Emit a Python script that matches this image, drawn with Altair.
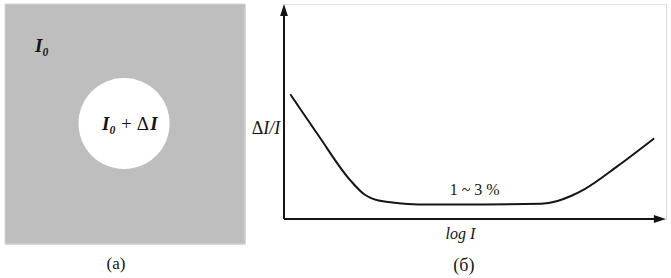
import altair as alt
import pandas as pd

# Curve of the right panel (log I on x, ΔI/I on y, arbitrary units 0..100)
log_i = [1.65, 8.8, 17.5, 21.0, 24.5, 28.9, 35.0, 52.4, 67.3, 71.6, 75.1, 78.6, 87.4, 96.9]
ratio = [58.0, 39.4, 17.7, 11.5, 8.7, 7.6, 6.8, 6.8, 7.1, 8.4, 10.7, 13.8, 24.7, 37.5]

FONT = "Liberation Serif"
INK = "#151515"

# ---------------- left panel (a) ----------------
sx = alt.Scale(domain=[0, 1], nice=False, zero=False)
sy = alt.Scale(domain=[0, 1], nice=False, zero=False)

sq = pd.DataFrame({"x": [0.0], "x2": [1.0], "y": [0.0], "y2": [1.0]})
square = alt.Chart(sq).mark_rect(color="#bebebe", stroke="#d4d4d4", strokeWidth=1).encode(
    x=alt.X("x:Q", scale=sx, axis=None), x2="x2:Q",
    y=alt.Y("y:Q", scale=sy, axis=None), y2="y2:Q",
)
hole = alt.Chart(pd.DataFrame({"x": [0.496], "y": [0.502]})).mark_circle(
    size=8281, color="white", opacity=1
).encode(x=alt.X("x:Q", scale=sx, axis=None), y=alt.Y("y:Q", scale=sy, axis=None))

left_it = pd.DataFrame({"t": ["I₀", "I₀", "I"], "x": [0.154, 0.433, 0.621], "y": [0.825, 0.5, 0.5]})
left_up = pd.DataFrame({"t": ["+", "Δ"], "x": [0.506, 0.574], "y": [0.5, 0.5]})
cap = pd.DataFrame({"t": ["(a)"], "x": [0.4625], "y": [-0.083]})
txt_it = alt.Chart(left_it).mark_text(font=FONT, fontStyle="italic", fontWeight="bold", fontSize=19, color=INK).encode(
    x=alt.X("x:Q", scale=sx, axis=None), y=alt.Y("y:Q", scale=sy, axis=None), text="t:N")
txt_up = alt.Chart(left_up).mark_text(font=FONT, fontSize=19, color=INK).encode(
    x=alt.X("x:Q", scale=sx, axis=None), y=alt.Y("y:Q", scale=sy, axis=None), text="t:N")
txt_cap = alt.Chart(cap).mark_text(font=FONT, fontSize=17, color=INK).encode(
    x=alt.X("x:Q", scale=sx, axis=None), y=alt.Y("y:Q", scale=sy, axis=None), text="t:N")

left = alt.layer(square, hole, txt_it, txt_up, txt_cap).properties(width=240, height=240)

# ---------------- right panel (б) ----------------
rx = alt.Scale(domain=[0, 100], nice=False, zero=False)
ry = alt.Scale(domain=[0, 100], nice=False, zero=False)

curve_df = pd.DataFrame({"logI": log_i, "r": ratio})
curve = alt.Chart(curve_df).mark_line(color=INK, strokeWidth=2, interpolate="monotone").encode(
    x=alt.X("logI:Q", scale=rx, axis=None), y=alt.Y("r:Q", scale=ry, axis=None))

yaxis = alt.Chart(pd.DataFrame({"x": [0], "y": [0], "y2": [97.2]})).mark_rule(color=INK, strokeWidth=2).encode(
    x=alt.X("x:Q", scale=rx, axis=None), y=alt.Y("y:Q", scale=ry, axis=None), y2="y2:Q")
xaxis = alt.Chart(pd.DataFrame({"x": [0], "x2": [98.4], "y": [0]})).mark_rule(color=INK, strokeWidth=2).encode(
    x=alt.X("x:Q", scale=rx, axis=None), x2="x2:Q", y=alt.Y("y:Q", scale=ry, axis=None))
up_head = alt.Chart(pd.DataFrame({"x": [0], "y": [97.2]})).mark_point(
    shape="M0,-1L-0.65,1L0.65,1Z", size=144, filled=True, color=INK, opacity=1).encode(
    x=alt.X("x:Q", scale=rx, axis=None), y=alt.Y("y:Q", scale=ry, axis=None))
right_head = alt.Chart(pd.DataFrame({"x": [98.4], "y": [0]})).mark_point(
    shape="M1,0L-1,-0.65L-1,0.65Z", size=144, filled=True, color=INK, opacity=1).encode(
    x=alt.X("x:Q", scale=rx, axis=None), y=alt.Y("y:Q", scale=ry, axis=None))

r_it = pd.DataFrame({"t": ["I/I"], "x": [-1.0], "y": [41.9]})
r_up = pd.DataFrame({"t": ["Δ"], "x": [-5.4], "y": [41.9]})
ylab_it = alt.Chart(r_it).mark_text(font=FONT, fontStyle="italic", fontSize=18, align="right", color=INK).encode(
    x=alt.X("x:Q", scale=rx, axis=None), y=alt.Y("y:Q", scale=ry, axis=None), text="t:N")
ylab_up = alt.Chart(r_up).mark_text(font=FONT, fontSize=18, align="right", color=INK).encode(
    x=alt.X("x:Q", scale=rx, axis=None), y=alt.Y("y:Q", scale=ry, axis=None), text="t:N")
xlab = alt.Chart(pd.DataFrame({"t": ["log I"], "x": [46.2], "y": [-7.0]})).mark_text(
    font=FONT, fontStyle="italic", fontSize=16, color=INK).encode(
    x=alt.X("x:Q", scale=rx, axis=None), y=alt.Y("y:Q", scale=ry, axis=None), text="t:N")
note = alt.Chart(pd.DataFrame({"t": ["1 ~ 3 %", "(б)"], "x": [49.9, 47.1], "y": [13.5, -21.9],
                               "s": [16, 18]})).mark_text(font=FONT, color=INK).encode(
    x=alt.X("x:Q", scale=rx, axis=None), y=alt.Y("y:Q", scale=ry, axis=None), text="t:N",
    size=alt.Size("s:Q", scale=None, legend=None))

right = alt.layer(curve, yaxis, xaxis, up_head, right_head, ylab_it, ylab_up, xlab, note).properties(
    width=382, height=215)

chart = alt.hconcat(left, right, spacing=39, bounds="flush").properties(
    padding={"left": 4, "top": 3, "right": 0, "bottom": 0}
).configure_view(stroke=None).configure(background="white")

chart.save("out.html", embed_options={"renderer": "svg", "actions": False})
